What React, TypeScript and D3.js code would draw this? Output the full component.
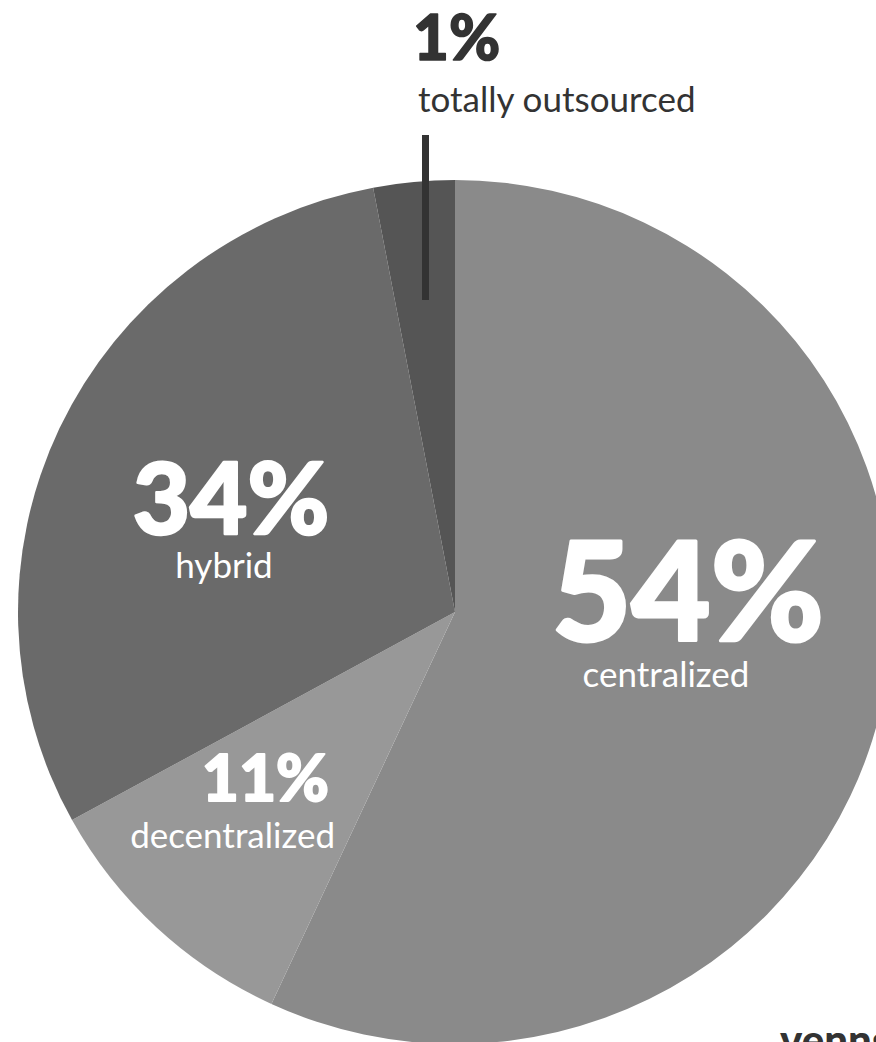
import React from "react";
import * as d3 from "d3";

// Categories and the percentages printed on the chart
const categories = ["centralized", "decentralized", "hybrid", "totally outsourced"];
const labelValues = [54, 11, 34, 1];
// Slice sweeps as drawn in the picture (share of the full circle, %)
const sliceValues = [56.9, 10.1, 30.0, 3.0];
const sliceColors = ["#8a8a8a", "#989898", "#6a6a6a", "#555555"];

const W = 876;
const H = 1042;
const CX = 455;
const CY = 612;
const R = 432;
const SX = 437 / 432;

const FONT = "Lato, 'Open Sans', 'Noto Sans', sans-serif";

export default function App() {
  const pie = d3
    .pie<number>()
    .sort(null)
    .value((d) => d)
    .startAngle(0)
    .endAngle(2 * Math.PI);
  const arcs = pie(sliceValues);
  const arc = d3.arc<d3.PieArcDatum<number>>().innerRadius(0).outerRadius(R);

  const pct = (i: number) => `${labelValues[i]}%`;
  const heavy = (color: string, w: number) => ({
    fontFamily: FONT,
    fontWeight: 900,
    fill: color,
    stroke: color,
    strokeWidth: w,
    strokeLinejoin: "round" as const,
  });

  return (
    <svg
      width={W}
      height={H}
      style={{ position: "absolute", left: 0, top: 0, display: "block", background: "#fff" }}
    >
      <g transform={`translate(${CX},${CY}) scale(${SX},1)`}>
        {arcs.map((a, i) => (
          <path key={categories[i]} d={arc(a) ?? ""} fill={sliceColors[i]} />
        ))}
      </g>

      {/* leader line for the small slice */}
      <line x1={425.5} x2={425.5} y1={135} y2={300} stroke="#333" strokeWidth={7} />

      {/* totally outsourced */}
      <text x={413} y={60} fontSize={62} {...heavy("#333", 1.5)}>
        {pct(3)}
      </text>
      <text x={418} y={112} fontFamily={FONT} fontWeight={400} fontSize={35} fill="#333">
        {categories[3]}
      </text>

      {/* hybrid */}
      <text x={231} y={534} textAnchor="middle" fontSize={99} {...heavy("#fff", 2.5)}>
        {pct(2)}
      </text>
      <text x={224} y={578} textAnchor="middle" fontFamily={FONT} fontWeight={400} fontSize={35} fill="#fff">
        {categories[2]}
      </text>

      {/* centralized */}
      <text x={688} y={641} textAnchor="middle" fontSize={137} {...heavy("#fff", 3)}>
        {pct(0)}
      </text>
      <text x={666} y={687} textAnchor="middle" fontFamily={FONT} fontWeight={400} fontSize={35} fill="#fff">
        {categories[0]}
      </text>

      {/* decentralized */}
      <text x={329} y={801} textAnchor="end" fontSize={64} {...heavy("#fff", 2)}>
        {pct(1)}
      </text>
      <text x={335} y={848} textAnchor="end" fontFamily={FONT} fontWeight={400} fontSize={35} fill="#fff">
        {categories[1]}
      </text>

      {/* logo, cut off at the bottom edge as in the source image */}
      <text x={780} y={1055} fontFamily={FONT} fontWeight={900} fontSize={42} fill="#333">
        venngage
      </text>
    </svg>
  );
}
